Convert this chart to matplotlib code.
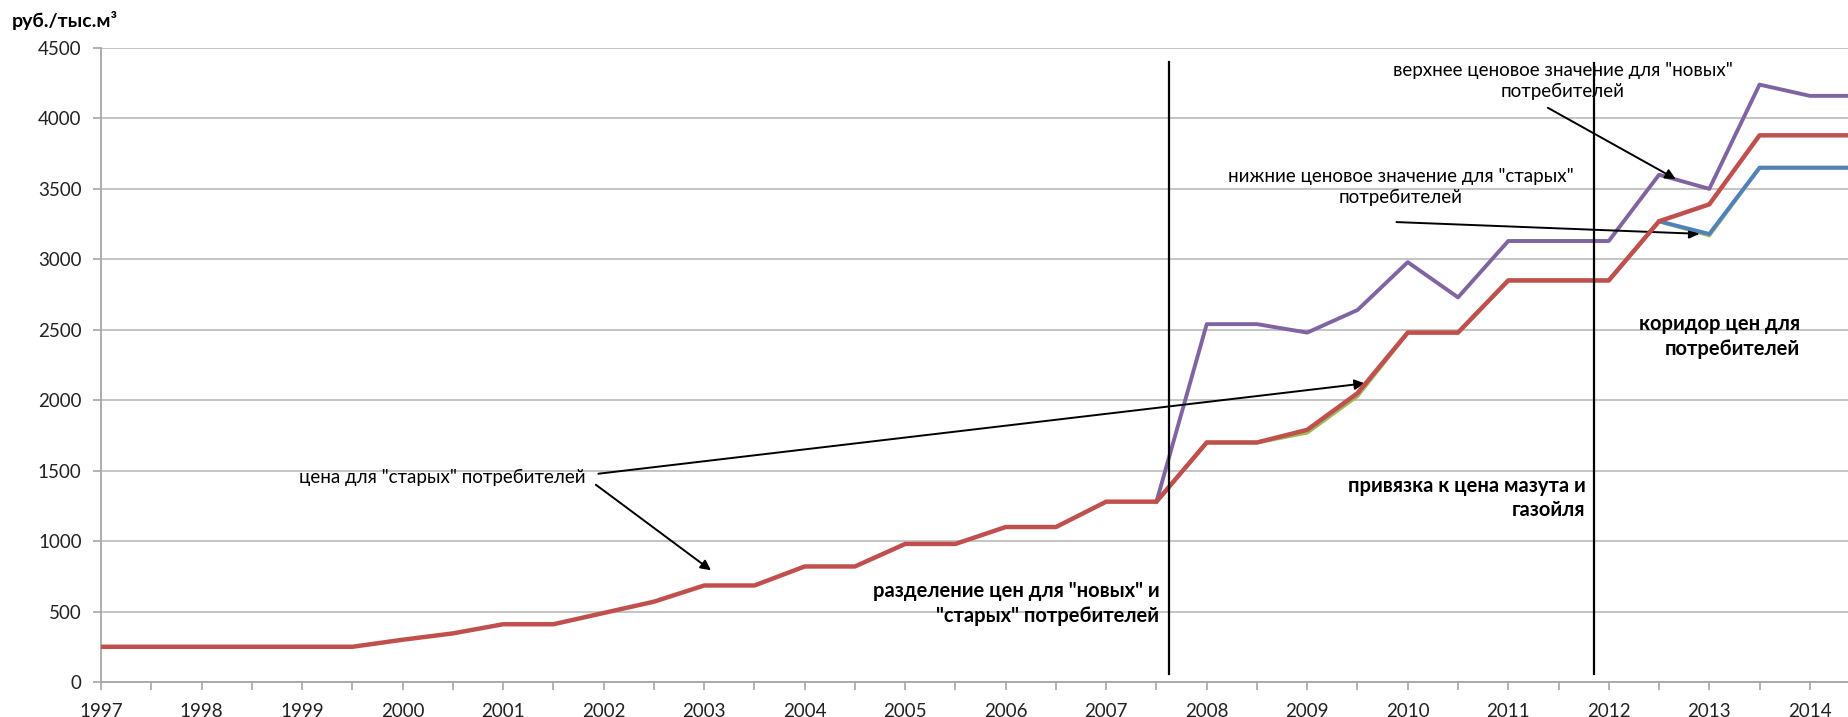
import numpy as np
import matplotlib
matplotlib.use("Agg")
import matplotlib.pyplot as plt

plt.rcParams['font.family'] = ['Lato', 'DejaVu Sans']

# ---- data ----
years = np.arange(1997, 2014.51, 0.5)
price_old = [250, 250, 250, 250, 250, 250, 300, 345, 410, 410, 490, 570,
             685, 685, 820, 820, 980, 980, 1100, 1100, 1280, 1280, 1700, 1700,
             1790, 2050, 2480, 2480, 2850, 2850, 2850, 3270, 3390, 3880, 3880, 3880]
split_years = np.arange(2007.5, 2014.51, 0.5)
upper_new = [1280, 2540, 2540, 2480, 2640, 2980, 2730, 3130, 3130, 3130,
             3600, 3500, 4240, 4160, 4160]
lower_green = [1280, 1700, 1700, 1770, 2030, 2480, 2480, 2850, 2850, 2850,
               3270, 3170, 3650, 3650, 3650]
blue_years = np.arange(2012.5, 2014.51, 0.5)
lower_old = [3270, 3180, 3650, 3650, 3650]
tick_years = list(range(1997, 2015))

fig = plt.figure(figsize=(18.48, 7.17), dpi=100)
ax = fig.add_axes([0.0547, 0.0488, 0.9453, 0.8843])

ax.plot(split_years, upper_new, color='#8064A2', lw=2.8, zorder=3)
ax.plot(split_years, lower_green, color='#9BBB59', lw=2.8, zorder=3)
ax.plot(blue_years, lower_old, color='#4F81BD', lw=2.8, zorder=4)
ax.plot(years, price_old, color='#C0504D', lw=3.2, zorder=5)

ax.set_xlim(1997, 2014.38)
ax.set_ylim(0, 4500)
ax.set_yticks(np.arange(0, 4501, 500))
ax.set_xticks(tick_years)
ax.set_xticks(np.arange(1997.5, 2014.4, 1.0), minor=True)
ax.grid(axis='y', color='#BFBFBF', lw=1.3)
ax.set_axisbelow(True)
for s in ['top', 'right']:
    ax.spines[s].set_visible(False)
for s in ['left', 'bottom']:
    ax.spines[s].set_color('#A6A6A6')
    ax.spines[s].set_linewidth(1.3)
ax.tick_params(axis='both', which='both', color='#A6A6A6', direction='out',
               length=6, width=1.2, labelsize=13.5, labelcolor='#222222')
ax.tick_params(axis='x', which='major', pad=9)
ax.tick_params(axis='y', pad=8)

# vertical markers
ax.plot([2007.62, 2007.62], [57, 4400], color='black', lw=1.6, zorder=6)
ax.plot([2011.85, 2011.85], [57, 4390], color='black', lw=1.6, zorder=6)

arrow = dict(arrowstyle='-|>', color='black', lw=1.4, mutation_scale=15)
fs = 13.5
fsb = 14.5
ax.text(2000.39, 1455, 'цена для "старых" потребителей', fontsize=fs, ha='center', va='center')
ax.annotate('', xy=(2009.6, 2122), xytext=(2001.92, 1476), arrowprops=arrow)
ax.annotate('', xy=(2003.09, 781), xytext=(2001.9, 1412), arrowprops=arrow)

ax.text(2011.54, 4265, 'верхнее ценовое значение для "новых"\nпотребителей', fontsize=fs,
        ha='center', va='center', linespacing=1.3)
ax.annotate('', xy=(2012.69, 3560), xytext=(2011.37, 4085), arrowprops=arrow)

ax.text(2009.93, 3513, 'нижние ценовое значение для "старых"\nпотребителей', fontsize=fs,
        ha='center', va='center', linespacing=1.3)
ax.annotate('', xy=(2012.93, 3180), xytext=(2009.86, 3265), arrowprops=arrow)

ax.text(2007.53, 555, 'разделение цен для "новых" и\n"старых" потребителей', fontsize=fsb,
        fontweight='bold', ha='right', va='center', linespacing=1.3)
ax.text(2011.77, 1306, 'привязка к цена мазута и\nгазойля', fontsize=fsb,
        fontweight='bold', ha='right', va='center', linespacing=1.3)
ax.text(2013.9, 2450, 'коридор цен для\nпотребителей', fontsize=fsb,
        fontweight='bold', ha='right', va='center', linespacing=1.3)

fig.text(12 / 1848, 1 - 21 / 717, 'руб./тыс.м³', fontsize=14, fontweight='bold',
         ha='left', va='center')

fig.savefig('out.png', dpi=100)
